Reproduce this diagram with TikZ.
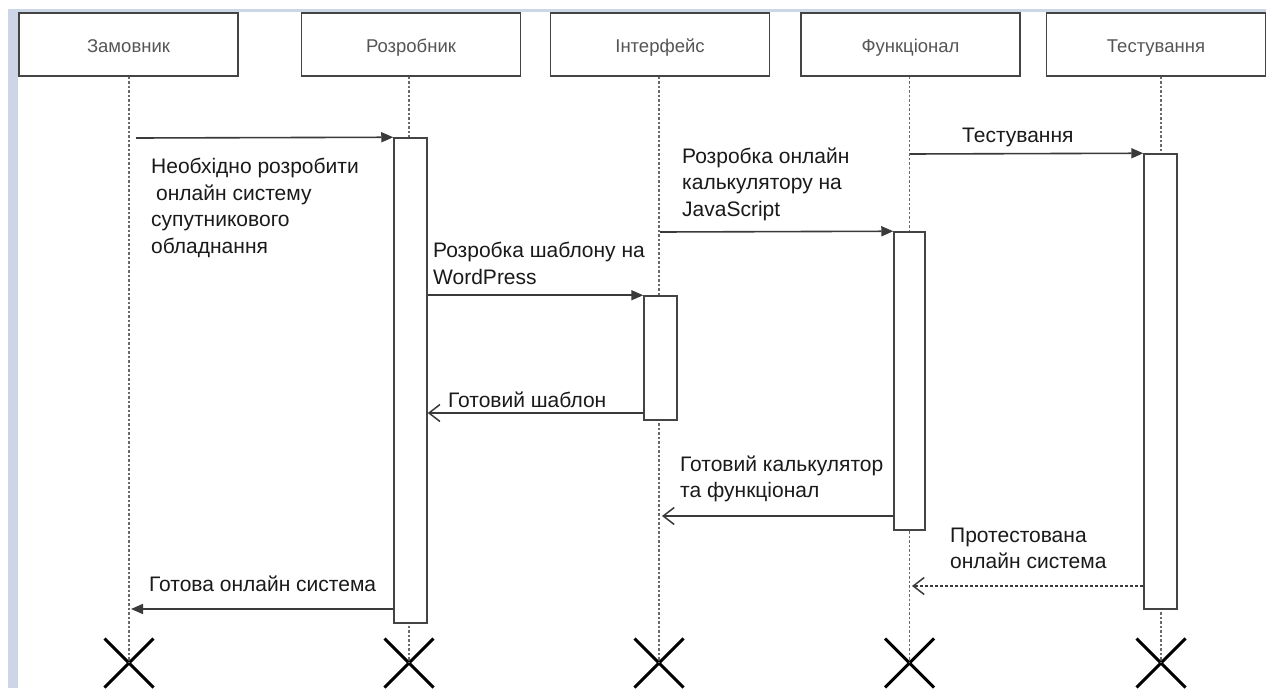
\documentclass[tikz,border=0pt]{standalone}
\usepackage{fontspec}
\setmainfont{Liberation Sans}
\usetikzlibrary{arrows.meta,shapes.misc}
\definecolor{frameblue}{HTML}{CDD6E6}
\definecolor{boxline}{HTML}{444444}
\definecolor{headtext}{HTML}{555555}
\definecolor{lifegray}{HTML}{6A6A6A}
\definecolor{msgline}{HTML}{3A3A3A}
\definecolor{labeltext}{HTML}{1A1A1A}
\begin{document}
\begin{tikzpicture}[x=1pt,y=-1pt,
  head/.style={draw=boxline, line width=1.6pt, fill=white, minimum width=219pt,
    minimum height=63pt, inner sep=0pt, text height=17pt, text depth=1pt,
    font=\fontsize{18.5}{22}\selectfont, text=headtext},
  lifeline/.style={draw=lifegray, line width=1.8pt, dash pattern=on 2.5pt off 2pt},
  bar/.style={draw=boxline, line width=1.5pt, fill=white, inner sep=0pt},
  call/.style={draw=msgline, line width=1.6pt, -{Triangle[length=12pt,width=10pt]}},
  reply/.style={draw=msgline, line width=1.5pt, -{Straight Barb[length=11pt,width=17pt]}},
  msg/.style={anchor=north west, inner sep=0pt, align=left, text=labeltext,
    font=\fontsize{21}{26.5}\selectfont},
  kill/.style={draw=black, line width=3pt, cross out, minimum size=46pt, inner sep=0pt}
]
\useasboundingbox (0,0) rectangle (1271,688);
\fill[white] (0,0) rectangle (1271,688);
% window frame
\fill[frameblue] (8,9) rectangle (18,688);
\fill[frameblue] (8,9) rectangle (1266,12);

% participants
\node[head] (h1) at (128.5,44.5) {Замовник};
\node[head] (h2) at (411,44.5) {Розробник};
\node[head] (h3) at (660,44.5) {Інтерфейс};
\node[head] (h4) at (910.5,44.5) {Функціонал};
\node[head] (h5) at (1156,44.5) {Тестування};

% destruction marks
\node[kill] (x1) at (129,663) {};
\node[kill] (x2) at (409,663) {};
\node[kill] (x3) at (659,663) {};
\node[kill] (x4) at (909.5,663) {};
\node[kill] (x5) at (1161,663) {};

% lifelines
\draw[lifeline] (h1.south -| x1) -- (x1.center);
\draw[lifeline] (h2.south -| x2) -- (x2.center);
\draw[lifeline] (h3.south -| x3) -- (x3.center);
\draw[lifeline] (h4.south -| x4) -- (x4.center);
\draw[lifeline] (h5.south -| x5) -- (x5.center);

% activation bars
\node[bar, minimum width=33pt, minimum height=485pt] (b2) at (410.5,380.5) {};
\node[bar, minimum width=33pt, minimum height=124pt] (b3) at (660.5,358) {};
\node[bar, minimum width=31pt, minimum height=298pt] (b4) at (909.5,381) {};
\node[bar, minimum width=33pt, minimum height=455pt] (b5) at (1160.5,381.5) {};

% message levels
\coordinate (m1) at (136,138);
\coordinate (m3) at (660,232);
\coordinate (m4) at (910,154);
\coordinate (r1) at (409,413);
\coordinate (r2) at (662,516);
\coordinate (r3) at (912,586);
\coordinate (r4) at (131,609);

% calls
\draw[call] (m1) -- (b2.north west);
\draw[call] (b2.east |- b3.north) -- (b3.north west);
\draw[call] (m3) -- (b4.north west);
\draw[call] (m4) -- (b5.north west);

% replies
\draw[reply] (b3.west |- r1) -- (b2.east |- r1);
\draw[reply] (b4.west |- r2) -- (r2);
\draw[reply, dash pattern=on 3pt off 2pt] (b5.west |- r3) -- (r3);
\draw[call] (b2.west |- r4) -- (r4);

% message labels
\node[msg] (t1) at (151,158) {Необхідно розробити\\\hspace*{5pt}онлайн систему\\супутникового\\обладнання};
\node[msg] (t2) at (433,242) {Розробка шаблону на\\WordPress};
\node[msg] (t3) at (682,147.5) {Розробка онлайн\\калькулятору на\\JavaScript};
\node[msg] (t4) at (962,127.5) {Тестування};
\node[msg] (t5) at (448,391.5) {Готовий шаблон};
\node[msg] (t6) at (680,455.5) {Готовий калькулятор\\та функціонал};
\node[msg] (t7) at (950,527.5) {Протестована\\онлайн система};
\node[msg] (t8) at (149,575.5) {Готова онлайн система};
\end{tikzpicture}
\end{document}
